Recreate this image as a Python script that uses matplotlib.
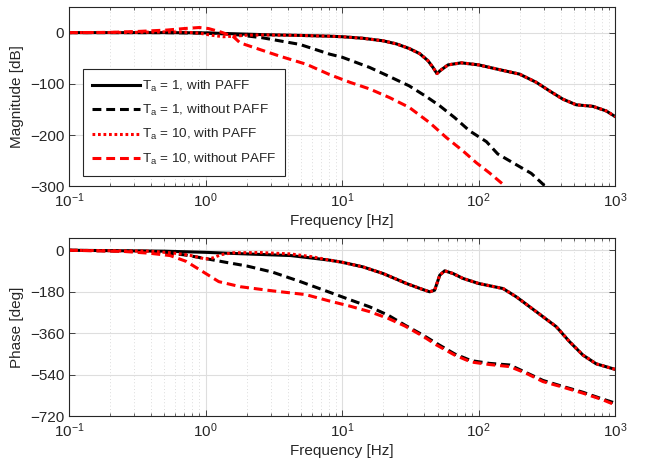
import numpy as np
import matplotlib
matplotlib.use("Agg")
import matplotlib.pyplot as plt

plt.rcParams['font.family'] = ['Liberation Sans', 'DejaVu Sans']
plt.rcParams['mathtext.fontset'] = 'custom'
plt.rcParams['mathtext.rm'] = 'Liberation Sans'
plt.rcParams['mathtext.default'] = 'regular'
plt.rcParams['font.size'] = 11

# ---- magnitude data [dB] ----
f_mag_t1_paff = [0.1, 0.5, 1.0, 1.5, 2.7, 5, 8.1, 10, 14.2, 20, 25, 31, 37, 42.6, 46.3,
                 49.5, 53, 59.7, 74.6, 100, 135, 199, 264, 331, 414, 519, 687, 860, 1000]
mag_t1_paff = [0, 0, -0.5, -2, -4, -5.5, -7, -8, -11, -16, -22, -31, -41, -55, -68,
               -80, -73, -63, -59, -63, -71, -81, -97, -114, -130, -141, -144, -153, -164]

f_mag_t1_nopaff = [0.1, 0.5, 1.0, 1.56, 2.6, 4.9, 8.1, 10, 15.9, 22.3, 31, 41.4, 51.9,
                   66.7, 85.9, 114, 138, 183, 243, 304]
mag_t1_nopaff = [0, 0, -1, -3, -10, -23, -42, -48, -68, -86, -104, -125, -143,
                 -166, -192, -213, -237, -256, -275, -299]

f_mag_t10_paff = [0.1, 0.3, 0.5, 0.7, 0.9, 1.1, 1.35, 1.6, 2.0, 2.7, 5, 8.1, 10, 14.2, 20,
                  25, 31, 37, 42.6, 46.3, 49.5, 53, 59.7, 74.6, 100, 135, 199, 264, 331,
                  414, 519, 687, 860, 1000]
mag_t10_paff = [0, 0.5, 1.5, 1, -1, -5, -8, -7, -5, -4.5, -5.5, -7, -8, -11, -16,
                -22, -31, -41, -55, -68, -80, -73, -63, -59, -63, -71, -81, -97, -114,
                -130, -141, -144, -153, -164]

f_mag_t10_nopaff = [0.1, 0.2, 0.33, 0.52, 0.7, 0.9, 1.05, 1.3, 1.6, 1.79, 2.5, 3.5, 5.5,
                    8.1, 11.4, 15.9, 22.3, 31, 43.8, 58, 76.7, 96, 120, 155]
mag_t10_nopaff = [0, 0.5, 2.5, 5, 8, 10, 8, 1, -8, -20, -33, -46, -62,
                  -82, -97, -110, -127, -146, -176, -205, -231, -254, -274, -299]

# ---- phase data [deg] ----
f_ph_t1_paff = [0.1, 0.5, 1.0, 1.8, 4.2, 8.1, 10, 14.2, 20, 29.6, 39, 43.8, 47.6, 51.9,
                56.4, 65, 76.7, 100, 151, 189, 264, 370, 463, 580, 726, 1000]
ph_t1_paff = [0, -4, -9, -15, -23, -43, -52, -72, -101, -144, -170, -180, -173, -108,
              -89, -101, -122, -144, -166, -202, -266, -331, -396, -454, -492, -516]

f_ph_t1_nopaff = [0.1, 0.4, 0.7, 1.0, 1.4, 2.0, 3.1, 4.9, 8.1, 12, 15.9, 21.7, 28.8, 39,
                  49, 66.7, 88, 120, 169, 223, 296, 414, 580, 813, 1000]
ph_t1_nopaff = [0, -5, -20, -36, -52, -68, -95, -135, -182, -219, -245, -281, -324, -367,
                -403, -449, -478, -490, -497, -530, -564, -590, -615, -645, -662]

f_ph_t10_paff = [0.1, 0.39, 0.58, 0.77, 1.0, 1.12, 1.3, 1.58, 2.5, 4.2, 6, 8.1, 10, 14.2,
                 20, 29.6, 39, 43.8, 47.6, 51.9, 56.4, 65, 76.7, 100, 151, 189, 264, 370,
                 463, 580, 726, 1000]
ph_t10_paff = [0, -4, -12, -22, -38, -34, -19, -11, -10, -16, -28, -43, -52, -72,
               -101, -144, -170, -180, -173, -108, -89, -101, -122, -144, -166, -202,
               -266, -331, -396, -454, -492, -516]

f_ph_t10_nopaff = [0.1, 0.25, 0.39, 0.55, 0.72, 0.95, 1.25, 1.8, 3.1, 5.4, 8.1, 11.4, 15.9,
                   21.7, 28.8, 39, 49, 66.7, 88, 120, 169, 223, 296, 414, 580, 813, 1000]
ph_t10_nopaff = [0, -5, -13, -23, -48, -92, -136, -158, -176, -192, -220, -242, -266,
                 -295, -328, -372, -410, -454, -484, -495, -504, -533, -569, -593, -619,
                 -648, -670]

labels = [r'T$_a$ = 1, with PAFF', r'T$_a$ = 1, without PAFF',
          r'T$_a$ = 10, with PAFF', r'T$_a$ = 10, without PAFF']

txt = '#262626'
lw = 2.2
dash = (0, (2.9, 1.6))
dot = (0, (0.9, 0.9))

fig = plt.figure(figsize=(6.51, 4.69), dpi=100)
ax1 = fig.add_axes([0.106, 0.603, 0.839, 0.382])
ax2 = fig.add_axes([0.106, 0.112, 0.839, 0.381])

ax1.plot(f_mag_t1_paff, mag_t1_paff, color='k', lw=lw, label=labels[0])
ax1.plot(f_mag_t1_nopaff, mag_t1_nopaff, color='k', lw=lw, ls=dash, label=labels[1])
ax1.plot(f_mag_t10_paff, mag_t10_paff, color='r', lw=lw, ls=dot, label=labels[2])
ax1.plot(f_mag_t10_nopaff, mag_t10_nopaff, color='r', lw=lw, ls=dash, label=labels[3])

ax2.plot(f_ph_t1_paff, ph_t1_paff, color='k', lw=lw)
ax2.plot(f_ph_t1_nopaff, ph_t1_nopaff, color='k', lw=lw, ls=dash)
ax2.plot(f_ph_t10_paff, ph_t10_paff, color='r', lw=lw, ls=dot)
ax2.plot(f_ph_t10_nopaff, ph_t10_nopaff, color='r', lw=lw, ls=dash)

ax1.set_ylim(-300, 50)
ax1.set_yticks([0, -100, -200, -300])
ax1.set_ylabel('Magnitude [dB]', color=txt)
ax2.set_ylim(-720, 54)
ax2.set_yticks([0, -180, -360, -540, -720])
ax2.set_ylabel('Phase [deg]', color=txt)

for ax in (ax1, ax2):
    ax.set_xscale('log')
    ax.set_xlim(0.1, 1000)
    ax.set_xlabel('Frequency [Hz]', color=txt, labelpad=3)
    ax.grid(True, which='major', color='#dedede', lw=0.8)
    ax.grid(True, which='minor', color='#d0d0d0', lw=0.6, ls=(0, (1, 3)))
    ax.set_axisbelow(True)
    ax.tick_params(which='both', direction='in', top=True, right=True, colors=txt,
                   labelcolor=txt, labelsize=11)
    ax.tick_params(which='major', length=4, width=0.6)
    ax.tick_params(which='minor', length=2.5, width=0.5)
    for s in ax.spines.values():
        s.set_color(txt)
        s.set_linewidth(0.8)

leg = ax1.legend(loc='lower left', bbox_to_anchor=(0.0256, 0.056), borderaxespad=0,
                 fancybox=False, framealpha=1, edgecolor=txt, handlelength=3.5,
                 labelspacing=0.68, handletextpad=0.15, borderpad=0.7, fontsize=9.7)
leg.get_frame().set_linewidth(0.8)
for t in leg.get_texts():
    t.set_color(txt)

fig.savefig('out.png', dpi=100)
